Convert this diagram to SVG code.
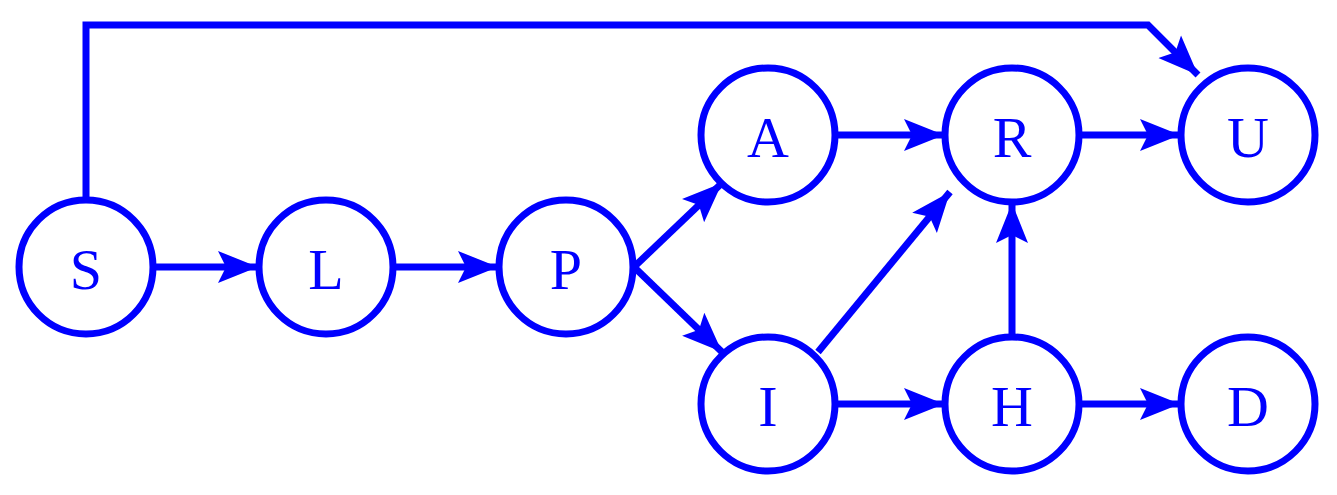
<svg xmlns="http://www.w3.org/2000/svg" width="1337" height="495" viewBox="0 0 1337 495">
<style>
.n circle{fill:#fff;stroke:#0000ff;stroke-width:7}
.n text{font-family:"Liberation Serif",serif;font-size:58px;fill:#0000ff;text-anchor:middle;dominant-baseline:central}
#edges path{fill:none;stroke:#0000ff;stroke-width:7;marker-end:url(#ah)}
</style>
<defs>
<marker id="ah" markerUnits="userSpaceOnUse" markerWidth="42" markerHeight="34" refX="40" refY="16" orient="auto" viewBox="0 0 42 32">
<path d="M0,0 L40,16 L0,32 L8,16 z" fill="#0000ff"/>
</marker>
</defs>
<g id="edges">
<path d="M154,267 H258"/>
<path d="M394,267 H498"/>
<path d="M634,267 L722,183"/>
<path d="M634,267 L722,352"/>
<path d="M836,135 H944"/>
<path d="M1080,135 H1180"/>
<path d="M818,352 L950,192"/>
<path d="M836,404 H944"/>
<path d="M1012,336 V203"/>
<path d="M1080,404 H1180"/>
<path d="M86,200 V25 H1148 L1198,75"/>
</g>
<g id="S" class="n"><circle cx="86" cy="267" r="67"/><text x="86" y="269">S</text></g>
<g id="L" class="n"><circle cx="326" cy="267" r="67"/><text x="326" y="269">L</text></g>
<g id="P" class="n"><circle cx="566" cy="267" r="67"/><text x="566" y="269">P</text></g>
<g id="A" class="n"><circle cx="768" cy="135" r="67"/><text x="768" y="137">A</text></g>
<g id="I" class="n"><circle cx="768" cy="404" r="67"/><text x="768" y="406">I</text></g>
<g id="R" class="n"><circle cx="1012" cy="135" r="67"/><text x="1012" y="137">R</text></g>
<g id="H" class="n"><circle cx="1012" cy="404" r="67"/><text x="1012" y="406">H</text></g>
<g id="U" class="n"><circle cx="1248" cy="135" r="67"/><text x="1248" y="137">U</text></g>
<g id="D" class="n"><circle cx="1248" cy="404" r="67"/><text x="1248" y="406">D</text></g>
</svg>
